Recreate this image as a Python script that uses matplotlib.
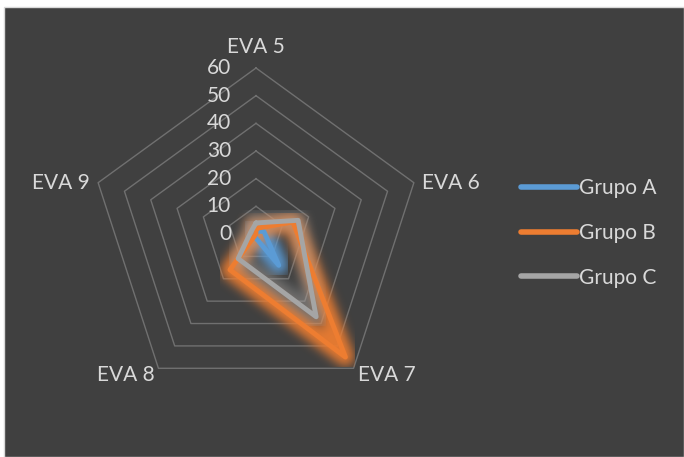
import numpy as np
import matplotlib
matplotlib.use("Agg")
import matplotlib.pyplot as plt
from matplotlib.patches import Rectangle
from matplotlib.lines import Line2D

# Data
categories = ["EVA 5", "EVA 6", "EVA 7", "EVA 8", "EVA 9"]
series_names = ["Grupo A", "Grupo B", "Grupo C"]
grupo_a = [1, 3, 14, 1, 0]
grupo_b = [2, 14, 55, 16, 0]
grupo_c = [4, 16, 37, 11, 2]
radial_ticks = [0, 10, 20, 30, 40, 50, 60]

colors = ["#5b9bd5", "#ed7d31", "#a5a5a5"]
glow_alpha = [0.95, 0.95, 0.45]
text_color = "#d9d9d9"
plt.rcParams["font.family"] = ["Lato", "DejaVu Sans"]
FS = 15


def glow_filter(color, sigma):
    """Gaussian blur of the alpha channel, painted in a single colour."""
    rgb = np.array(matplotlib.colors.to_rgb(color))
    size = int(3 * sigma)
    x = np.arange(-size, size + 1)
    k = np.exp(-0.5 * (x / sigma) ** 2)
    k /= k.sum()

    def f(im, dpi):
        a = np.pad(im[..., 3], size)
        h, w = a.shape
        tmp = np.zeros((h, w - 2 * size))
        for i, kv in enumerate(k):
            tmp += kv * a[:, i:i + w - 2 * size]
        out_a = np.zeros((h - 2 * size, w - 2 * size))
        for i, kv in enumerate(k):
            out_a += kv * tmp[i:i + h - 2 * size, :]
        a2 = np.pad(out_a, size)
        out = np.zeros(a2.shape + (4,))
        out[..., :3] = rgb
        out[..., 3] = a2
        return out, -size, -size
    return f


W, H = 684, 457
fig = plt.figure(figsize=(W / 100, H / 100), dpi=100, facecolor="white")
fig.patches.append(Rectangle((4 / W, 0), (W - 4) / W, (H - 7) / H,
                             transform=fig.transFigure, facecolor="#404040",
                             edgecolor="#d9d9d9", lw=1, zorder=-10))

cx, cy, R = 256, 234, 166
ax = fig.add_axes([(cx - R) / W, (H - cy - R) / H, 2 * R / W, 2 * R / H],
                  projection="polar")
ax.set_theta_zero_location("N")
ax.set_theta_direction(-1)
ax.set_ylim(0, 60)
ax.set_facecolor("none")
ax.grid(False)
ax.spines["polar"].set_visible(False)
ax.set_xticks([])
ax.set_yticks([])

angles = np.linspace(0, 2 * np.pi, len(categories), endpoint=False)
closed = np.append(angles, angles[0])

# pentagonal grid rings
for v in radial_ticks[1:]:
    ax.plot(closed, [v] * len(closed), color="#707070", lw=1, clip_on=False,
            zorder=1)

# radial tick labels along the top axis
for v in radial_ticks:
    ax.annotate(str(v), xy=(0, v), xytext=(-25, 0), textcoords="offset pixels",
                ha="right", va="center", color=text_color, fontsize=FS,
                annotation_clip=False)

# category labels
offsets = [((0, 21), "center"), ((8, 0), "left"), ((4, -7), "left"),
           ((-4, -7), "right"), ((-8, 0), "right")]
for ang, lab, (off, ha) in zip(angles, categories, offsets):
    ax.annotate(lab, xy=(ang, 60), xytext=off, textcoords="offset pixels",
                ha=ha, va="center", color=text_color, fontsize=FS,
                annotation_clip=False)

# series with glow
for vals, col, ga, name in zip([grupo_a, grupo_b, grupo_c], colors,
                               glow_alpha, series_names):
    vv = vals + [vals[0]]
    g, = ax.plot(closed, vv, color=col, lw=13, alpha=ga, clip_on=False,
                 solid_joinstyle="round", zorder=2)
    g.set_agg_filter(glow_filter(col, 5))
    ax.plot(closed, vv, color=col, lw=3.5, clip_on=False,
            solid_joinstyle="round", solid_capstyle="round", zorder=3,
            label=name)

handles = [Line2D([], [], color=c, lw=4, solid_capstyle="round") for c in colors]
leg = fig.legend(handles, series_names, loc="center left",
                 bbox_to_anchor=(511 / W, 1 - 233 / H), frameon=False,
                 fontsize=FS, handlelength=2.65, handletextpad=0.1,
                 labelspacing=1.18, borderpad=0)
for t in leg.get_texts():
    t.set_color(text_color)

fig.savefig("out.png", dpi=100, facecolor=fig.get_facecolor())
